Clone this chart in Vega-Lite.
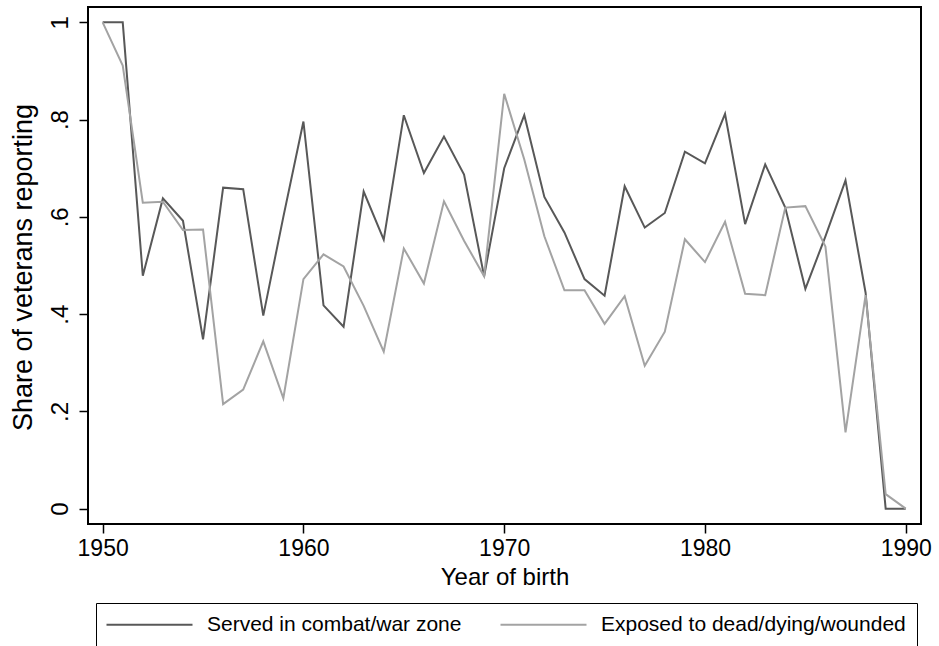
{
  "$schema": "https://vega.github.io/schema/vega-lite/v6.json",
  "width": 833,
  "height": 517,
  "autosize": {"type": "none"},
  "padding": {"left": 88, "top": 7, "right": 18, "bottom": 122},
  "background": "white",
  "config": {
    "font": "Liberation Sans",
    "view": {"stroke": "black", "strokeWidth": 2},
    "axis": {"grid": false, "domain": false, "tickColor": "black", "tickWidth": 1.5, "tickSize": 9, "labelColor": "black", "titleColor": "black", "titleFontWeight": "normal", "labelFlush": false}
  },
  "data": {"values": [
    {"year": 1950, "series": "Served in combat/war zone", "value": 1.0},
    {"year": 1951, "series": "Served in combat/war zone", "value": 1.0},
    {"year": 1952, "series": "Served in combat/war zone", "value": 0.479},
    {"year": 1953, "series": "Served in combat/war zone", "value": 0.638},
    {"year": 1954, "series": "Served in combat/war zone", "value": 0.592},
    {"year": 1955, "series": "Served in combat/war zone", "value": 0.348},
    {"year": 1956, "series": "Served in combat/war zone", "value": 0.660},
    {"year": 1957, "series": "Served in combat/war zone", "value": 0.657},
    {"year": 1958, "series": "Served in combat/war zone", "value": 0.397},
    {"year": 1959, "series": "Served in combat/war zone", "value": 0.600},
    {"year": 1960, "series": "Served in combat/war zone", "value": 0.796},
    {"year": 1961, "series": "Served in combat/war zone", "value": 0.418},
    {"year": 1962, "series": "Served in combat/war zone", "value": 0.374},
    {"year": 1963, "series": "Served in combat/war zone", "value": 0.652},
    {"year": 1964, "series": "Served in combat/war zone", "value": 0.553},
    {"year": 1965, "series": "Served in combat/war zone", "value": 0.809},
    {"year": 1966, "series": "Served in combat/war zone", "value": 0.690},
    {"year": 1967, "series": "Served in combat/war zone", "value": 0.765},
    {"year": 1968, "series": "Served in combat/war zone", "value": 0.687},
    {"year": 1969, "series": "Served in combat/war zone", "value": 0.478},
    {"year": 1970, "series": "Served in combat/war zone", "value": 0.700},
    {"year": 1971, "series": "Served in combat/war zone", "value": 0.809},
    {"year": 1972, "series": "Served in combat/war zone", "value": 0.641},
    {"year": 1973, "series": "Served in combat/war zone", "value": 0.568},
    {"year": 1974, "series": "Served in combat/war zone", "value": 0.472},
    {"year": 1975, "series": "Served in combat/war zone", "value": 0.438},
    {"year": 1976, "series": "Served in combat/war zone", "value": 0.663},
    {"year": 1977, "series": "Served in combat/war zone", "value": 0.578},
    {"year": 1978, "series": "Served in combat/war zone", "value": 0.608},
    {"year": 1979, "series": "Served in combat/war zone", "value": 0.734},
    {"year": 1980, "series": "Served in combat/war zone", "value": 0.710},
    {"year": 1981, "series": "Served in combat/war zone", "value": 0.812},
    {"year": 1982, "series": "Served in combat/war zone", "value": 0.585},
    {"year": 1983, "series": "Served in combat/war zone", "value": 0.708},
    {"year": 1984, "series": "Served in combat/war zone", "value": 0.619},
    {"year": 1985, "series": "Served in combat/war zone", "value": 0.452},
    {"year": 1986, "series": "Served in combat/war zone", "value": 0.560},
    {"year": 1987, "series": "Served in combat/war zone", "value": 0.675},
    {"year": 1988, "series": "Served in combat/war zone", "value": 0.444},
    {"year": 1989, "series": "Served in combat/war zone", "value": 0.0},
    {"year": 1990, "series": "Served in combat/war zone", "value": 0.0},
    {"year": 1950, "series": "Exposed to dead/dying/wounded", "value": 1.0},
    {"year": 1951, "series": "Exposed to dead/dying/wounded", "value": 0.911},
    {"year": 1952, "series": "Exposed to dead/dying/wounded", "value": 0.629},
    {"year": 1953, "series": "Exposed to dead/dying/wounded", "value": 0.631},
    {"year": 1954, "series": "Exposed to dead/dying/wounded", "value": 0.573},
    {"year": 1955, "series": "Exposed to dead/dying/wounded", "value": 0.574},
    {"year": 1956, "series": "Exposed to dead/dying/wounded", "value": 0.215},
    {"year": 1957, "series": "Exposed to dead/dying/wounded", "value": 0.245},
    {"year": 1958, "series": "Exposed to dead/dying/wounded", "value": 0.344},
    {"year": 1959, "series": "Exposed to dead/dying/wounded", "value": 0.227},
    {"year": 1960, "series": "Exposed to dead/dying/wounded", "value": 0.472},
    {"year": 1961, "series": "Exposed to dead/dying/wounded", "value": 0.523},
    {"year": 1962, "series": "Exposed to dead/dying/wounded", "value": 0.498},
    {"year": 1963, "series": "Exposed to dead/dying/wounded", "value": 0.417},
    {"year": 1964, "series": "Exposed to dead/dying/wounded", "value": 0.323},
    {"year": 1965, "series": "Exposed to dead/dying/wounded", "value": 0.535},
    {"year": 1966, "series": "Exposed to dead/dying/wounded", "value": 0.463},
    {"year": 1967, "series": "Exposed to dead/dying/wounded", "value": 0.632},
    {"year": 1968, "series": "Exposed to dead/dying/wounded", "value": 0.551},
    {"year": 1969, "series": "Exposed to dead/dying/wounded", "value": 0.478},
    {"year": 1970, "series": "Exposed to dead/dying/wounded", "value": 0.853},
    {"year": 1971, "series": "Exposed to dead/dying/wounded", "value": 0.718},
    {"year": 1972, "series": "Exposed to dead/dying/wounded", "value": 0.560},
    {"year": 1973, "series": "Exposed to dead/dying/wounded", "value": 0.449},
    {"year": 1974, "series": "Exposed to dead/dying/wounded", "value": 0.449},
    {"year": 1975, "series": "Exposed to dead/dying/wounded", "value": 0.380},
    {"year": 1976, "series": "Exposed to dead/dying/wounded", "value": 0.437},
    {"year": 1977, "series": "Exposed to dead/dying/wounded", "value": 0.294},
    {"year": 1978, "series": "Exposed to dead/dying/wounded", "value": 0.364},
    {"year": 1979, "series": "Exposed to dead/dying/wounded", "value": 0.554},
    {"year": 1980, "series": "Exposed to dead/dying/wounded", "value": 0.507},
    {"year": 1981, "series": "Exposed to dead/dying/wounded", "value": 0.590},
    {"year": 1982, "series": "Exposed to dead/dying/wounded", "value": 0.442},
    {"year": 1983, "series": "Exposed to dead/dying/wounded", "value": 0.439},
    {"year": 1984, "series": "Exposed to dead/dying/wounded", "value": 0.619},
    {"year": 1985, "series": "Exposed to dead/dying/wounded", "value": 0.622},
    {"year": 1986, "series": "Exposed to dead/dying/wounded", "value": 0.539},
    {"year": 1987, "series": "Exposed to dead/dying/wounded", "value": 0.157},
    {"year": 1988, "series": "Exposed to dead/dying/wounded", "value": 0.439},
    {"year": 1989, "series": "Exposed to dead/dying/wounded", "value": 0.030},
    {"year": 1990, "series": "Exposed to dead/dying/wounded", "value": 0.0}
  ]},
  "mark": {"type": "line", "strokeWidth": 2},
  "encoding": {
    "x": {
      "field": "year", "type": "quantitative",
      "scale": {"domain": [1949.27, 1990.76], "nice": false, "zero": false},
      "axis": {"values": [1950, 1960, 1970, 1980, 1990], "format": "d", "title": "Year of birth", "labelFontSize": 23, "titleFontSize": 24, "labelPadding": 4, "titleX": 416.5, "titleY": 60.6, "titleBaseline": "alphabetic", "titleAlign": "center"}
    },
    "y": {
      "field": "value", "type": "quantitative",
      "scale": {"domain": [-0.0315, 1.0315], "nice": false, "zero": false},
      "axis": {"values": [0, 0.2, 0.4, 0.6, 0.8, 1], "labelExpr": "datum.value == 0 ? '0' : datum.value == 1 ? '1' : replace(format(datum.value, '.1f'), '0.', '.')", "labelAngle": 270, "labelAlign": "center", "labelBaseline": "alphabetic", "labelPadding": 11.5, "labelFontSize": 24, "title": "Share of veterans reporting", "titleFontSize": 27, "titleAngle": 270, "titleX": -56.3, "titleY": 260, "titleBaseline": "alphabetic", "titleAlign": "center"}
    },
    "color": {
      "field": "series", "type": "nominal",
      "scale": {"domain": ["Served in combat/war zone", "Exposed to dead/dying/wounded"], "range": ["#585858", "#a3a3a3"]},
      "legend": {"orient": "none", "legendX": 8, "legendY": 596, "direction": "horizontal", "title": null, "symbolType": "M-2.2,0H15", "symbolSize": 100, "symbolStrokeWidth": 2, "symbolFillColor": "transparent", "labelFontSize": 21, "labelOffset": 79, "columnPadding": 34, "padding": 11, "strokeColor": "black", "fillColor": "white", "labelLimit": 500, "labelColor": "black"}
    }
  }
}
